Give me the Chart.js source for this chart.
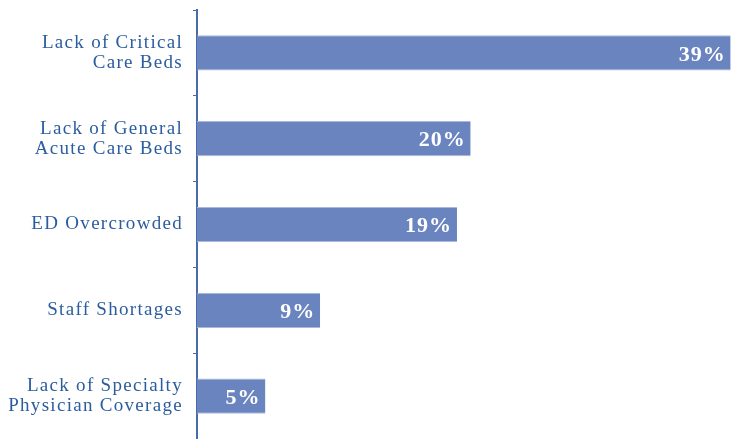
<!DOCTYPE html>
<html>
<head>
<meta charset="utf-8">
<script src="https://cdn.jsdelivr.net/npm/chart.js"></script>
<style>
  html, body { margin: 0; padding: 0; background: #fff; }
  #wrap { width: 732px; height: 439px; }
</style>
</head>
<body>
<div id="wrap"><canvas id="reasons" width="732" height="439"></canvas></div>
<script>
var categories = [
    ['Lack of Critical', 'Care Beds'],
    ['Lack of General', 'Acute Care Beds'],
    'ED Overcrowded',
    'Staff Shortages',
    ['Lack of Specialty', 'Physician Coverage']
];
var percents = [39, 20, 19, 9, 5];

var blue = '#2b5d9e';
var barColor = '#6a84bf';

// wider letter spacing, like the original typeface
var spacing = {
    id: 'spacing',
    beforeDraw: function (chart) {
        chart.ctx.letterSpacing = '1.3px';
    }
};

// draw the value inside the end of each bar
var valueLabels = {
    id: 'valueLabels',
    afterDatasetsDraw: function (chart) {
        var ctx = chart.ctx;
        var meta = chart.getDatasetMeta(0);
        ctx.save();
        ctx.fillStyle = '#ffffff';
        ctx.font = '600 22px "Liberation Serif", serif';
        ctx.letterSpacing = '1px';
        ctx.textAlign = 'right';
        ctx.textBaseline = 'middle';
        meta.data.forEach(function (bar, i) {
            var x = Math.min(bar.x, chart.width) - 5;
            ctx.fillText(percents[i] + '%', x, bar.y + 2);
        });
        ctx.restore();
    }
};

var ctx = document.getElementById('reasons').getContext('2d');
var chart = new Chart(ctx, {
    type: 'bar',
    data: {
        labels: categories,
        datasets: [{
            data: percents,
            backgroundColor: barColor,
            borderColor: '#a9b8dd',
            borderWidth: { top: 1, bottom: 1, left: 0, right: 0 },
            borderSkipped: false,
            categoryPercentage: 1,
            barPercentage: 0.41
        }]
    },
    options: {
        indexAxis: 'y',
        responsive: false,
        animation: false,
        layout: { padding: { top: 10, right: 0, bottom: 0, left: 0 } },
        plugins: {
            legend: { display: false },
            tooltip: { enabled: false }
        },
        scales: {
            x: {
                display: false,
                min: 0,
                max: 39.1
            },
            y: {
                afterFit: function (scale) {
                    scale.width = 197;
                    scale.paddingTop = 0;
                    scale.paddingBottom = 0;
                },
                border: { display: true, color: '#4a6aa8', width: 2 },
                grid: {
                    offset: true,
                    drawOnChartArea: false,
                    tickLength: 4,
                    color: '#4a6aa8',
                    lineWidth: 1
                },
                ticks: {
                    color: blue,
                    padding: 10,
                    font: { family: '"Liberation Serif", serif', size: 19, lineHeight: 1.05 }
                }
            }
        }
    },
    plugins: [spacing, valueLabels]
});
</script>
</body>
</html>
